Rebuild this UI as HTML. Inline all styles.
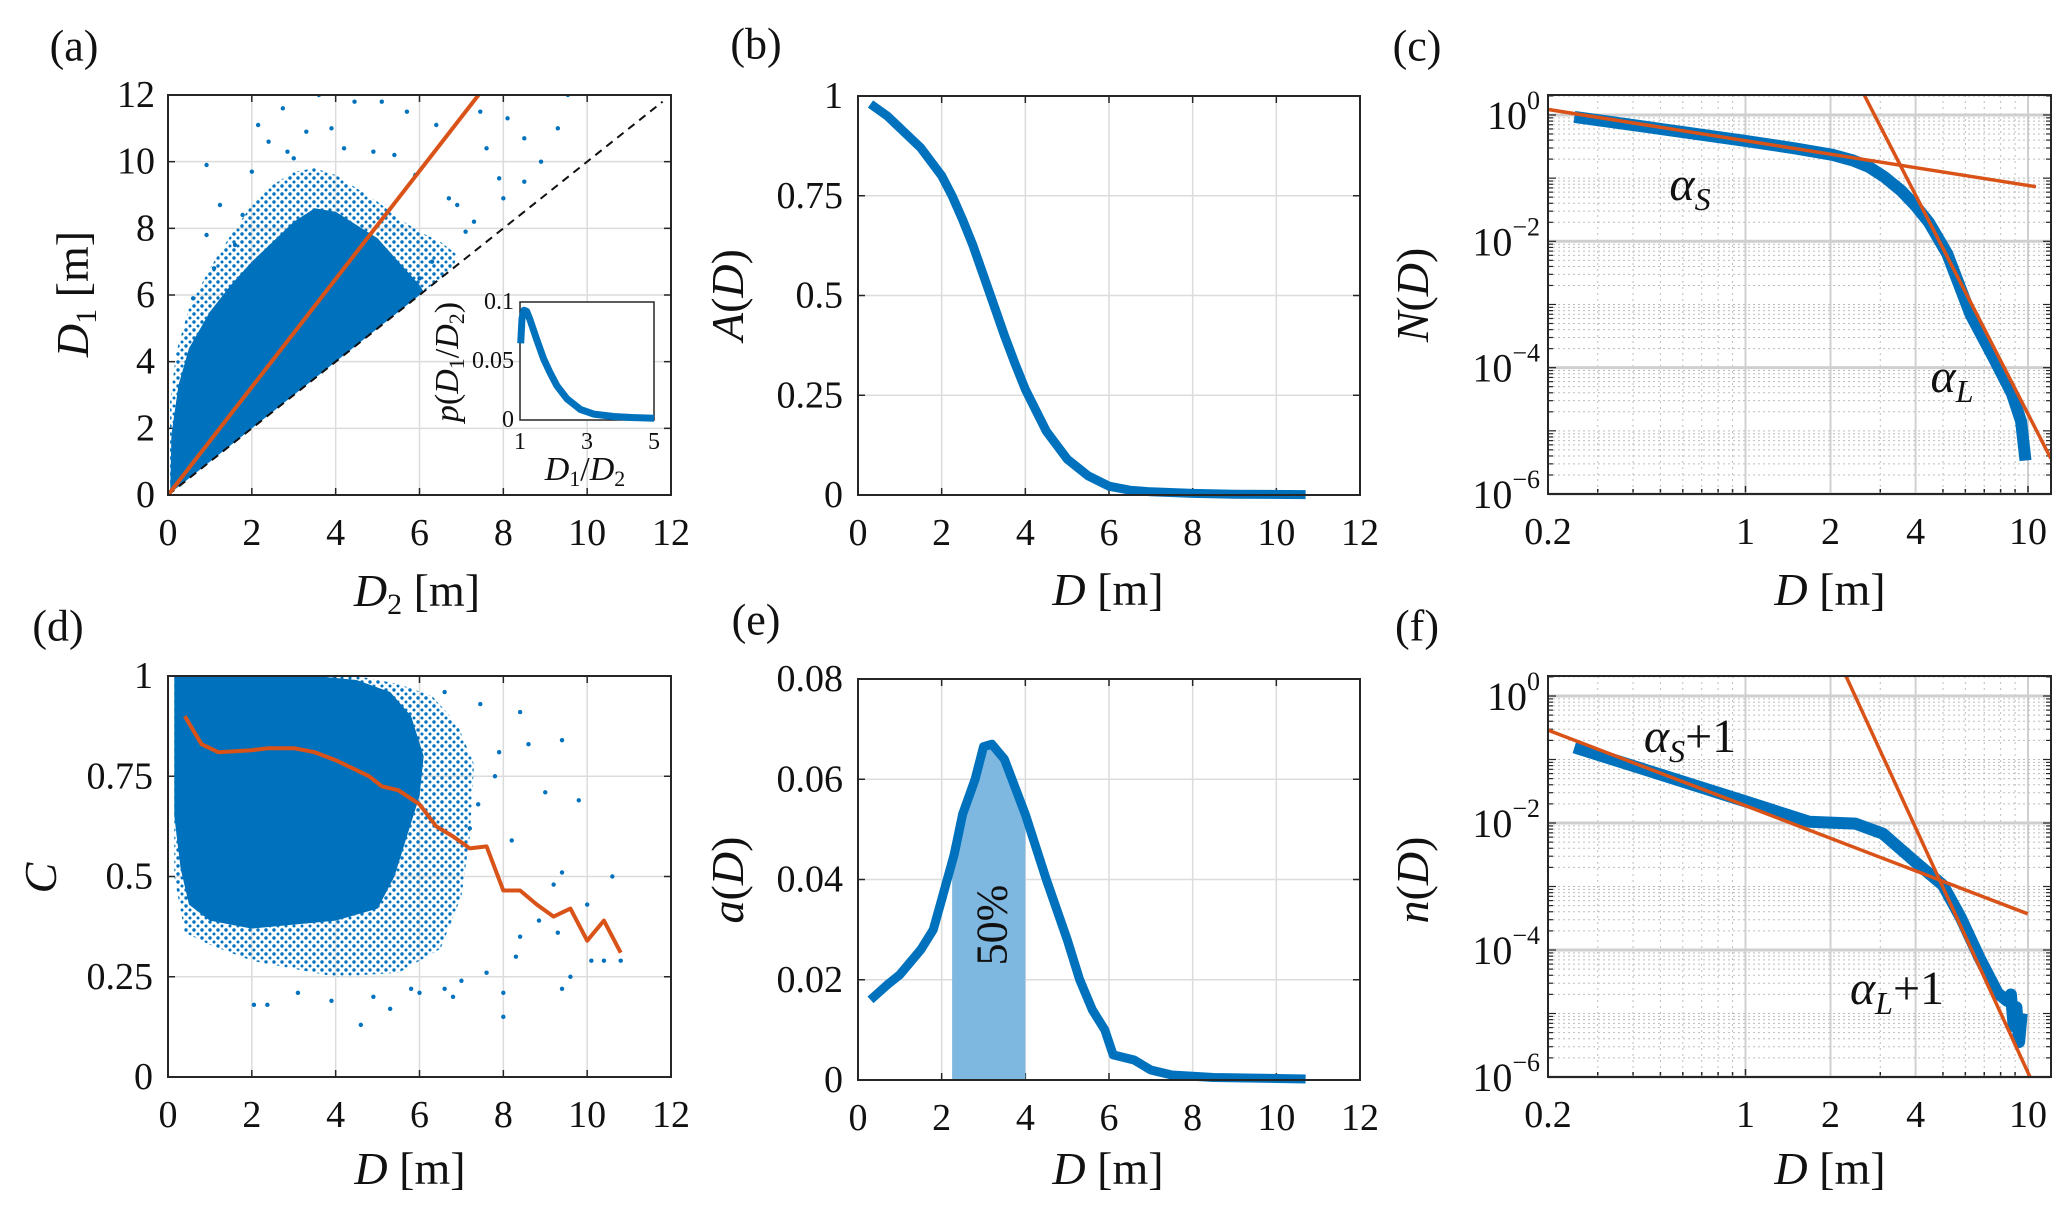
<!DOCTYPE html>
<html><head><meta charset="utf-8"><style>
html,body{margin:0;padding:0;background:#fff}
svg{display:block}
text{font-family:"Liberation Serif",serif;fill:#111}
</style></head><body>
<svg id="fig" width="2067" height="1213" viewBox="0 0 2067 1213" xmlns="http://www.w3.org/2000/svg">
<defs>
<pattern id="dots" width="8" height="8" patternUnits="userSpaceOnUse"><circle cx="2" cy="2" r="1.7" fill="#0072BD"/><circle cx="6" cy="6" r="1.5" fill="#0072BD"/></pattern>
</defs>
</svg>
<script>
// ---------- data ----------
const aEnvUpper = [[0.05,0],[0.08,1.8],[0.25,3.3],[0.5,4.4],[1,5.5],[1.5,6.3],[2,7],[2.5,7.6],[3,8.2],[3.5,8.6],[4,8.5],[4.5,8.1],[5,7.7],[5.5,7.0],[6,6.3],[6.1,6.1]];
const aFringeUpper = [[0.05,0],[0.05,2.8],[0.2,4.3],[0.5,5.6],[1,6.8],[1.5,7.8],[2,8.7],[2.5,9.3],[3,9.7],[3.5,9.8],[4,9.6],[4.5,9.2],[5,8.8],[5.5,8.3],[6,7.9],[6.5,7.6],[6.9,7.2],[6.8,6.8]];
const aOutX = [3.6,2.74,2.15,0.92,9.54,9.3,8.5,8.1,7.45,7.6,8.9,8.5,8,7.1,6.9,7.9,5.7,6.4,5.1,4.45,3.9,3.3,5.4,2.85,1.24,1.78,0.92,0.6,2.4,6.3,6.0,4.9,5.9,3.0,1.6,7.3,6.7,4.2,2.0,1.1];
const aOutY = [12,11.6,11.1,9.9,12,11,10.7,11.3,11.5,10.4,10,9.4,8.9,7.9,8.7,9.5,11.5,11.1,11.8,11.8,11,10.9,10.2,10.3,8.7,8.4,7.8,5.9,10.6,7,6.5,10.3,9.6,10.1,7.5,8.2,8.9,10.4,9.7,6.8];
const fitSlopeA = 1.62;
const insetX = [1.02,1.06,1.12,1.2,1.3,1.5,1.7,1.9,2.1,2.4,2.8,3.2,3.8,4.4,5];
const insetY = [0.065,0.086,0.093,0.092,0.085,0.068,0.052,0.04,0.029,0.018,0.009,0.005,0.003,0.002,0.0015];

const bX = [0.3,0.7,1,1.5,2,2.25,2.5,2.75,3,3.25,3.5,3.75,4,4.5,5,5.5,6,6.5,7,8,9,10.7];
const bY = [0.98,0.95,0.92,0.87,0.8,0.75,0.69,0.625,0.55,0.475,0.40,0.33,0.265,0.16,0.09,0.048,0.022,0.012,0.008,0.004,0.002,0.001];

const cX = [0.248,0.5,1,1.5,2.03,2.4,2.73,3.1,3.56,4,4.46,5.18,6.25,7.54,8.77,9.45,9.8];
const cLogY = [-0.03,-0.22,-0.41,-0.53,-0.63,-0.72,-0.82,-0.98,-1.2,-1.44,-1.7,-2.2,-3.15,-3.84,-4.41,-4.85,-5.47];
const cFitS = [[-0.703,0.09],[1.028,-1.136]];
const cFitL = [[0.421,0.31],[1.081,-5.44]];

const dLineX = [0.4,0.8,1.2,2,2.4,3,3.5,4,4.4,4.8,5.1,5.5,6,6.4,6.8,7.2,7.6,8,8.4,8.8,9.2,9.6,10,10.4,10.8];
const dLineY = [0.9,0.83,0.81,0.815,0.82,0.82,0.81,0.79,0.77,0.75,0.725,0.715,0.68,0.625,0.6,0.57,0.575,0.465,0.465,0.43,0.40,0.42,0.34,0.39,0.31];
const dCore = [[0.15,1],[3.5,1],[4.5,0.99],[5.3,0.96],[5.8,0.9],[6.1,0.8],[6.0,0.7],[5.7,0.6],[5.4,0.5],[5.0,0.42],[4,0.39],[3,0.38],[2,0.37],[1,0.39],[0.5,0.43],[0.3,0.52],[0.15,0.65]];
const dFringe = [[0.15,1],[4.5,1],[5.5,0.98],[6.3,0.95],[6.9,0.88],[7.3,0.78],[7.2,0.6],[7.0,0.45],[6.5,0.32],[5.5,0.26],[4,0.25],[3,0.27],[2,0.29],[1,0.33],[0.4,0.36],[0.15,0.5]];
const dOutX = [8.4,9.4,8.6,9,9.8,10.6,10,10.8,9.4,9.6,8,8,4.6,5.3,2.05,2.37,7.45,6.6,7.9,9.4,9.2,8.85,8.4,10.1,10.4,9.3,8.2,7.8,7.2,3.9,3.1,6,6.8,7.6,8.3,7.0,6.6,5.8,4.9,7.4];
const dOutY = [0.91,0.84,0.83,0.71,0.69,0.5,0.43,0.29,0.22,0.25,0.21,0.15,0.13,0.17,0.18,0.18,0.93,0.96,0.81,0.51,0.48,0.39,0.35,0.29,0.29,0.36,0.59,0.75,0.62,0.19,0.21,0.21,0.2,0.26,0.3,0.24,0.22,0.22,0.2,0.68];

const eX = [0.3,0.7,1,1.5,1.8,2,2.3,2.5,2.8,3.0,3.2,3.5,4,4.5,5,5.3,5.6,5.9,6.1,6.6,7,7.5,8.5,10.7];
const eY = [0.016,0.019,0.021,0.026,0.03,0.036,0.045,0.053,0.06,0.0665,0.067,0.064,0.053,0.04,0.028,0.02,0.014,0.01,0.005,0.004,0.002,0.001,0.0005,0.0002];
const eShade = [2.25,4];

const fX = [0.248,1,1.68,2.45,3.07,3.98,5.0,5.78,6.73,7.82,8.43,8.7,8.9,9.1,9.3,9.5];
const fLogY = [-0.81,-1.66,-1.98,-2.01,-2.17,-2.61,-2.98,-3.49,-4.12,-4.68,-4.8,-4.7,-5.2,-4.9,-5.45,-5.0];
const fFitS = [[-0.703,-0.53],[0.999,-3.43]];
const fFitL = [[0.355,0.32],[1.007,-6.0]];

const linTicks12 = [0,2,4,6,8,10,12];
const logXTicks = [0.2,1,2,4,10];
// ---------- helpers ----------
const NS="http://www.w3.org/2000/svg";
const svg=document.getElementById('fig');
const BLUE="#0072BD", RED="#D95319";
const TF=38;
function el(tag,attrs,parent){const e=document.createElementNS(NS,tag);for(const k in attrs)e.setAttribute(k,attrs[k]);(parent||svg).appendChild(e);return e;}
function txt(s,x,y,size,parent,anchor,extra){const t=el('text',Object.assign({x:x,y:y,'font-size':size,'text-anchor':anchor||'middle','dominant-baseline':'central'},extra||{}),parent);t.textContent=s;return t;}
function group(name){const g=el('g',{});return g;}
function linAxis(d0,d1,p0,p1){return v=>p0+(v-d0)/(d1-d0)*(p1-p0);}
function frame(g,L,T,R,B){const r=el('rect',{x:L,y:T,width:R-L,height:B-T,fill:'none',stroke:'#262626','stroke-width':2},g);}
function pathFrom(xs,ys,sx,sy){return xs.map((x,i)=>(i?'L':'M')+sx(x).toFixed(1)+','+sy(ys[i]).toFixed(1)).join('');}
function polyFrom(pts,sx,sy){return pts.map((p,i)=>(i?'L':'M')+sx(p[0]).toFixed(1)+','+sy(p[1]).toFixed(1)).join('')+'Z';}
function panelLabel(s,x,y){const t=txt(s,x,y,44);}
function linGridTicks(g,L,T,R,B,sx,sy,xt,yt,xlab,ylab,ylabX){
  const gg=el('g',{},g);
  xt.forEach(v=>{el('line',{x1:sx(v),x2:sx(v),y1:T,y2:B,stroke:'#dcdcdc','stroke-width':1.5},gg);el('line',{x1:sx(v),x2:sx(v),y1:B,y2:B-7,stroke:'#262626','stroke-width':1.5},gg);el('line',{x1:sx(v),x2:sx(v),y1:T,y2:T+7,stroke:'#262626','stroke-width':1.5},gg);});
  yt.forEach(v=>{el('line',{x1:L,x2:R,y1:sy(v),y2:sy(v),stroke:'#dcdcdc','stroke-width':1.5},gg);el('line',{x1:L,x2:L+7,y1:sy(v),y2:sy(v),stroke:'#262626','stroke-width':1.5},gg);el('line',{x1:R,x2:R-7,y1:sy(v),y2:sy(v),stroke:'#262626','stroke-width':1.5},gg);});
  const xl=el('g',{},g);
  xt.forEach((v,i)=>txt(xlab[i],sx(v),B+38,TF,xl));
  const yl=el('g',{},g);
  yt.forEach((v,i)=>txt(ylab[i],ylabX,sy(v),TF,yl,'end'));
}
function logGrid(g,L,T,R,B,sx,sy,xmin,xmax,ymin,ymax){
  const gg=el('g',{},g);
  for(let e=-1;e<=1;e++)for(let m=1;m<10;m++){const v=m*Math.pow(10,e);if(v<xmin||v>xmax)continue;const major=(m===1);
    el('line',{x1:sx(v),x2:sx(v),y1:T,y2:B,stroke:major?'#d0d0d0':'#bdbdbd','stroke-width':major?2:1,'stroke-dasharray':major?'':'2,4'},gg);
    el('line',{x1:sx(v),x2:sx(v),y1:B,y2:B-(major?8:5),stroke:'#262626','stroke-width':1.5},gg);}
  [2,4].forEach(v=>el('line',{x1:sx(v),x2:sx(v),y1:T,y2:B,stroke:'#d0d0d0','stroke-width':2},gg));
  for(let e=-7;e<=0;e++)for(let m=1;m<10;m++){const lv=e+Math.log10(m);if(lv<ymin||lv>ymax)continue;const major=(m===1&&e%2===0);
    el('line',{x1:L,x2:R,y1:sy(lv),y2:sy(lv),stroke:major?'#cfcfcf':'#bdbdbd','stroke-width':major?3:1,'stroke-dasharray':major?'':'2,3'},gg);
    el('line',{x1:L,x2:L+(m===1?8:5),y1:sy(lv),y2:sy(lv),stroke:'#262626','stroke-width':1.2},gg);
    el('line',{x1:R,x2:R-(m===1?8:5),y1:sy(lv),y2:sy(lv),stroke:'#262626','stroke-width':1.2},gg);}
}
function logLabels(g,sx,sy,B,L){
  const xl=el('g',{},g);
  logXTicks.forEach(v=>txt(String(v),sx(v),B+38,TF,xl));
  const yl=el('g',{},g);
  [0,-2,-4,-6].forEach(e=>{const t=el('text',{x:L-8,y:sy(e)+14,'font-size':40,'text-anchor':'end'},yl);
    const a=el('tspan',{},t);a.textContent='10';const b=el('tspan',{dy:-20,'font-size':26},t);b.textContent=(e===0?'0':'\u2212'+(-e));});
}
function dots(g,xs,ys,sx,sy,r,name){const gg=el('g',{},g);
  xs.forEach((x,i)=>el('circle',{cx:sx(x),cy:sy(ys[i]),r:r,fill:BLUE},gg));}

// ---------- panel (a) ----------
(function(){
  const g=group('panel-a');const L=168,T=95,R=671,B=495;
  const sx=linAxis(0,12,L,R), sy=linAxis(0,12,B,T);
  linGridTicks(g,L,T,R,B,sx,sy,linTicks12,[0,2,4,6,8,10,12],linTicks12.map(String),[0,2,4,6,8,10,12].map(String),155);
  const clip=el('clipPath',{id:'clipA'},g);el('rect',{x:L,y:T,width:R-L,height:B-T},clip);
  const cg=el('g',{'clip-path':'url(#clipA)'},g);
  const fr=el('path',{d:polyFrom(aFringeUpper.concat([[0,0]]),sx,sy),fill:'url(#dots)'},cg);
  
  const core=el('path',{d:polyFrom(aEnvUpper.concat([[0,0]]),sx,sy),fill:BLUE},cg);
  
  dots(cg,aOutX,aOutY,sx,sy,2.2,'scatter-outliers');
  const dl=el('line',{x1:sx(0),y1:sy(0),x2:sx(11.8),y2:sy(11.8),stroke:'#111','stroke-width':2,'stroke-dasharray':'8,6'},cg);
  
  const fl=el('line',{x1:sx(0),y1:sy(0),x2:sx(12/fitSlopeA),y2:sy(12),stroke:RED,'stroke-width':4},cg);
  
  frame(g,L,T,R,B);
  // inset
  const iL=520,iT=302,iR=654,iB=420;const ix=linAxis(1,5,iL,iR), iy=linAxis(0,0.1,iB,iT);
  const ig=el('g',{},g);
  el('rect',{x:iL,y:iT,width:iR-iL,height:iB-iT,fill:'#fff',stroke:'#262626','stroke-width':1.5},ig);
  const ip=el('path',{d:pathFrom(insetX,insetY,ix,iy),fill:'none',stroke:BLUE,'stroke-width':7,'stroke-linejoin':'round'},ig);
  
  [[0.1,'0.1'],[0.05,'0.05'],[0,'0']].forEach(p=>txt(p[1],iL-6,iy(p[0]),24,ig,'end'));
  [1,3,5].forEach(v=>txt(String(v),ix(v),iB+22,24,ig));
  const it=el('text',{x:585,y:480,'font-size':34,'text-anchor':'middle','font-style':'italic'},ig);it.innerHTML='D<tspan font-size="22" font-style="normal" dy="6">1</tspan><tspan dy="-6" font-style="normal">/</tspan>D<tspan font-size="22" font-style="normal" dy="6">2</tspan>';
  
  const iy2=el('text',{x:0,y:0,'font-size':34,'text-anchor':'middle','font-style':'italic',transform:'translate(458,362) rotate(-90)'},ig);iy2.innerHTML='p<tspan font-style="normal">(</tspan>D<tspan font-size="22" font-style="normal" dy="6">1</tspan><tspan dy="-6" font-style="normal">/</tspan>D<tspan font-size="22" font-style="normal" dy="6">2</tspan><tspan dy="-6" font-style="normal">)</tspan>';
  
  const xt=el('text',{x:417,y:606,'font-size':46,'text-anchor':'middle'},g);xt.innerHTML='<tspan font-style="italic">D</tspan><tspan font-size="30" dy="8">2</tspan><tspan dy="-8"> [m]</tspan>';
  
  const yt=el('text',{x:0,y:0,'font-size':46,'text-anchor':'middle',transform:'translate(88,294) rotate(-90)'},g);yt.innerHTML='<tspan font-style="italic">D</tspan><tspan font-size="30" dy="8">1</tspan><tspan dy="-8"> [m]</tspan>';
  
  panelLabel('(a)',74,46);
})();

// ---------- panel (b) ----------
(function(){
  const g=group('panel-b');const L=858,T=96,R=1360,B=495;
  const sx=linAxis(0,12,L,R), sy=linAxis(0,1,B,T);const yt=[0,0.25,0.5,0.75,1];
  linGridTicks(g,L,T,R,B,sx,sy,linTicks12,yt,linTicks12.map(String),['0','0.25','0.5','0.75','1'],843);
  const p=el('path',{d:pathFrom(bX,bY,sx,sy),fill:'none',stroke:BLUE,'stroke-width':9,'stroke-linejoin':'round'},g);
  
  frame(g,L,T,R,B);
  const xt=el('text',{x:1108,y:605,'font-size':46,'text-anchor':'middle'},g);xt.innerHTML='<tspan font-style="italic">D</tspan> [m]';
  
  const yl=el('text',{x:0,y:0,'font-size':46,'text-anchor':'middle',transform:'translate(743,295) rotate(-90)'},g);yl.innerHTML='<tspan font-style="italic">A</tspan>(<tspan font-style="italic">D</tspan>)';
  
  panelLabel('(b)',756,44);
})();

// ---------- panel (c) ----------
(function(){
  const g=group('panel-c');const L=1548,T=95,R=2051,B=494;
  const xmin=0.2,xmax=12.06,ymin=-6,ymax=0.316;
  const sx=v=>L+(Math.log10(v)-Math.log10(xmin))/(Math.log10(xmax)-Math.log10(xmin))*(R-L);
  const sxl=lv=>sx(Math.pow(10,lv));
  const sy=lv=>B-(lv-ymin)/(ymax-ymin)*(B-T);
  logGrid(g,L,T,R,B,sx,sy,xmin,xmax,ymin,ymax);
  const clip=el('clipPath',{id:'clipC'},g);el('rect',{x:L,y:T,width:R-L,height:B-T},clip);
  const cg=el('g',{'clip-path':'url(#clipC)'},g);
  const p=el('path',{d:pathFrom(cX,cLogY,sx,sy),fill:'none',stroke:BLUE,'stroke-width':12,'stroke-linejoin':'round'},cg);
  
  const f1=el('path',{d:'M'+sxl(cFitS[0][0])+','+sy(cFitS[0][1])+'L'+sxl(cFitS[1][0])+','+sy(cFitS[1][1]),stroke:RED,'stroke-width':3.5,fill:'none'},cg);
  
  const f2=el('path',{d:'M'+sxl(cFitL[0][0])+','+sy(cFitL[0][1])+'L'+sxl(cFitL[1][0])+','+sy(cFitL[1][1]),stroke:RED,'stroke-width':3.5,fill:'none'},cg);
  
  frame(g,L,T,R,B);
  logLabels(g,sx,sy,B,L);
  const a1=el('text',{x:1690,y:200,'font-size':48,'text-anchor':'middle','font-style':'italic'},g);a1.innerHTML='α<tspan font-size="32" dy="10">S</tspan>';
  
  const a2=el('text',{x:1952,y:392,'font-size':48,'text-anchor':'middle','font-style':'italic'},g);a2.innerHTML='α<tspan font-size="32" dy="10">L</tspan>';
  
  const xt=el('text',{x:1830,y:605,'font-size':46,'text-anchor':'middle'},g);xt.innerHTML='<tspan font-style="italic">D</tspan> [m]';
  
  const yl=el('text',{x:0,y:0,'font-size':46,'text-anchor':'middle',transform:'translate(1428,295) rotate(-90)'},g);yl.innerHTML='<tspan font-style="italic">N</tspan>(<tspan font-style="italic">D</tspan>)';
  
  panelLabel('(c)',1417,46);
})();

// ---------- panel (d) ----------
(function(){
  const g=group('panel-d');const L=168,T=676,R=671,B=1077;
  const sx=linAxis(0,12,L,R), sy=linAxis(0,1,B,T);const yt=[0,0.25,0.5,0.75,1];
  linGridTicks(g,L,T,R,B,sx,sy,linTicks12,yt,linTicks12.map(String),['0','0.25','0.5','0.75','1'],153);
  const fr=el('path',{d:polyFrom(dFringe,sx,sy),fill:'url(#dots)'},g);
  
  const core=el('path',{d:polyFrom(dCore,sx,sy),fill:BLUE},g);
  
  dots(g,dOutX,dOutY,sx,sy,2.2,'scatter-outliers');
  const p=el('path',{d:pathFrom(dLineX,dLineY,sx,sy),fill:'none',stroke:RED,'stroke-width':4,'stroke-linejoin':'round'},g);
  
  frame(g,L,T,R,B);
  const xt=el('text',{x:410,y:1184,'font-size':46,'text-anchor':'middle'},g);xt.innerHTML='<tspan font-style="italic">D</tspan> [m]';
  
  const yl=el('text',{x:0,y:0,'font-size':46,'text-anchor':'middle','font-style':'italic',transform:'translate(56,878) rotate(-90)'},g);yl.textContent='C';
  
  panelLabel('(d)',58,626);
})();

// ---------- panel (e) ----------
(function(){
  const g=group('panel-e');const L=858,T=679,R=1360,B=1080;
  const sx=linAxis(0,12,L,R), sy=linAxis(0,0.08,B,T);const yt=[0,0.02,0.04,0.06,0.08];
  linGridTicks(g,L,T,R,B,sx,sy,linTicks12,yt,linTicks12.map(String),['0','0.02','0.04','0.06','0.08'],843);
  const xs=[eShade[0]];
  eX.forEach((x)=>{if(x>eShade[0]&&x<eShade[1])xs.push(x);});xs.push(eShade[1]);
  const interp=x=>{for(let i=1;i<eX.length;i++){if(x<=eX[i]){const t=(x-eX[i-1])/(eX[i]-eX[i-1]);return eY[i-1]+t*(eY[i]-eY[i-1]);}}return eY[eY.length-1];};
  let d='M'+sx(eShade[0])+','+sy(0);xs.forEach(x=>{d+='L'+sx(x)+','+sy(interp(x));});d+='L'+sx(eShade[1])+','+sy(0)+'Z';
  const sh=el('path',{d:d,fill:'#7EB8E0'},g);
  const p=el('path',{d:pathFrom(eX,eY,sx,sy),fill:'none',stroke:BLUE,'stroke-width':9,'stroke-linejoin':'round'},g);
  
  const pct=el('text',{x:0,y:0,'font-size':44,'text-anchor':'middle','dominant-baseline':'central',transform:'translate('+sx(3.2)+',925) rotate(-90)'},g);pct.textContent='50%';
  
  frame(g,L,T,R,B);
  const xt=el('text',{x:1108,y:1184,'font-size':46,'text-anchor':'middle'},g);xt.innerHTML='<tspan font-style="italic">D</tspan> [m]';
  
  const yl=el('text',{x:0,y:0,'font-size':46,'text-anchor':'middle',transform:'translate(743,880) rotate(-90)'},g);yl.innerHTML='<tspan font-style="italic">a</tspan>(<tspan font-style="italic">D</tspan>)';
  
  panelLabel('(e)',756,620);
})();

// ---------- panel (f) ----------
(function(){
  const g=group('panel-f');const L=1548,T=676,R=2051,B=1077;
  const xmin=0.2,xmax=12.06,ymin=-6,ymax=0.315;
  const sx=v=>L+(Math.log10(v)-Math.log10(xmin))/(Math.log10(xmax)-Math.log10(xmin))*(R-L);
  const sxl=lv=>sx(Math.pow(10,lv));
  const sy=lv=>B-(lv-ymin)/(ymax-ymin)*(B-T);
  logGrid(g,L,T,R,B,sx,sy,xmin,xmax,ymin,ymax);
  const clip=el('clipPath',{id:'clipF'},g);el('rect',{x:L,y:T,width:R-L,height:B-T},clip);
  const cg=el('g',{'clip-path':'url(#clipF)'},g);
  const p=el('path',{d:pathFrom(fX,fLogY,sx,sy),fill:'none',stroke:BLUE,'stroke-width':12,'stroke-linejoin':'round'},cg);
  
  const f1=el('path',{d:'M'+sxl(fFitS[0][0])+','+sy(fFitS[0][1])+'L'+sxl(fFitS[1][0])+','+sy(fFitS[1][1]),stroke:RED,'stroke-width':3.5,fill:'none'},cg);
  
  const f2=el('path',{d:'M'+sxl(fFitL[0][0])+','+sy(fFitL[0][1])+'L'+sxl(fFitL[1][0])+','+sy(fFitL[1][1]),stroke:RED,'stroke-width':3.5,fill:'none'},cg);
  
  frame(g,L,T,R,B);
  logLabels(g,sx,sy,B,L);
  const a1=el('text',{x:1690,y:752,'font-size':48,'text-anchor':'middle'},g);a1.innerHTML='<tspan font-style="italic">α</tspan><tspan font-size="32" font-style="italic" dy="10">S</tspan><tspan dy="-10">+1</tspan>';
  
  const a2=el('text',{x:1897,y:1004,'font-size':48,'text-anchor':'middle'},g);a2.innerHTML='<tspan font-style="italic">α</tspan><tspan font-size="32" font-style="italic" dy="10">L</tspan><tspan dy="-10">+1</tspan>';
  
  const xt=el('text',{x:1830,y:1184,'font-size':46,'text-anchor':'middle'},g);xt.innerHTML='<tspan font-style="italic">D</tspan> [m]';
  
  const yl=el('text',{x:0,y:0,'font-size':46,'text-anchor':'middle',transform:'translate(1428,880) rotate(-90)'},g);yl.innerHTML='<tspan font-style="italic">n</tspan>(<tspan font-style="italic">D</tspan>)';
  
  panelLabel('(f)',1417,626);
})();
</script>
</body></html>
